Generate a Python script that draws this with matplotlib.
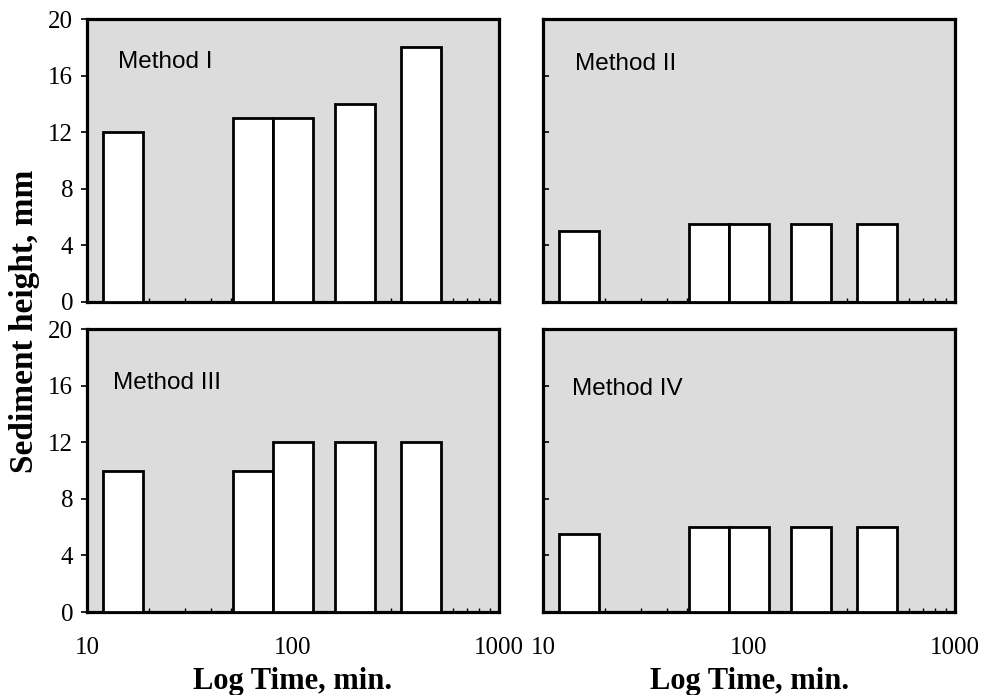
import matplotlib.pyplot as plt
import numpy as np

plt.rcParams.update({'font.family': 'Liberation Serif', 'font.size': 18})

# settling times (min) and sediment heights (mm) for each method
times = np.array([15, 64, 100, 200, 420])
method_1 = [12, 13, 13, 14, 18]
method_2 = [5, 5.5, 5.5, 5.5, 5.5]
method_3 = [10, 10, 12, 12, 12]
method_4 = [5.5, 6, 6, 6, 6]
names = ["Method I", "Method II", "Method III", "Method IV"]
heights = [method_1, method_2, method_3, method_4]

half = 0.097  # half bar width in decades
lefts = times * 10**(-half)
widths = times * 10**half - lefts

fig = plt.figure(figsize=(9.82, 6.95), dpi=100)
boxes = [(0.0886, 0.5655), (0.553, 0.5655), (0.0886, 0.1194), (0.553, 0.1194)]
label_pos = [(0.075, 0.85), (0.078, 0.84), (0.063, 0.81), (0.07, 0.79)]

for i in range(4):
    ax = fig.add_axes([boxes[i][0], boxes[i][1], 0.4196, 0.407])
    ax.set_facecolor('#dcdcdc')
    ax.set_axisbelow(True)
    ax.bar(lefts, heights[i], width=widths, align='edge', color='white',
           edgecolor='black', linewidth=2.0, zorder=3)
    ax.set_xscale('log')
    ax.set_xlim(10, 1000)
    ax.set_ylim(0, 20)
    ax.set_yticks([0, 4, 8, 12, 16, 20])
    for s in ax.spines.values():
        s.set_linewidth(2.3)
    ax.tick_params(axis='x', which='both', direction='in', length=4, width=1, pad=18)
    ax.tick_params(axis='x', which='minor', length=3)
    if i % 2 == 0:
        ax.tick_params(axis='y', direction='out', length=4, width=1.2, pad=6)
    else:
        ax.tick_params(axis='y', direction='in', length=4, width=1.2, labelleft=False)
    if i < 2:
        ax.tick_params(axis='x', which='both', labelbottom=False)
    else:
        ax.set_xticks([10, 100, 1000])
        ax.set_xticklabels(['10', '100', '1000'])
        ax.set_xlabel('Log Time, min.', fontsize=22, fontweight='bold', labelpad=6)
    ax.text(label_pos[i][0], label_pos[i][1], names[i], transform=ax.transAxes,
            family='Liberation Sans', fontsize=17.5, ha='left', va='center')

fig.text(0.025, 0.537, 'Sediment height, mm', rotation=90, ha='center', va='center',
         fontsize=24, fontweight='bold')

fig.savefig('out.png', dpi=100)
